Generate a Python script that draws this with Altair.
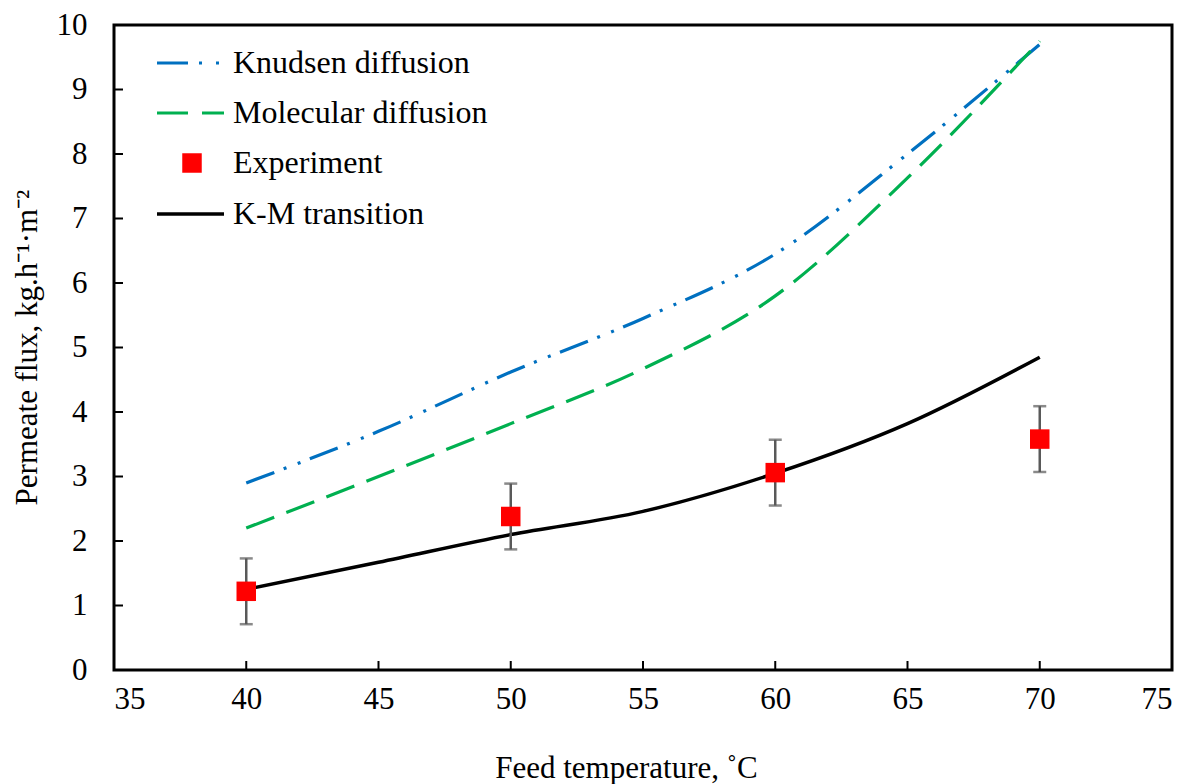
import altair as alt
import pandas as pd

# ---- data ----
temps = [40, 45, 50, 55, 60, 65, 70]
knudsen = [2.9, 3.70, 4.62, 5.45, 6.45, 8.0, 9.7]
molecular = [2.2, 3.0, 3.82, 4.67, 5.8, 7.63, 9.75]
km_transition = [1.25, 1.67, 2.1, 2.46, 3.05, 3.82, 4.85]

exp_temps = [40, 50, 60, 70]
exp_flux = [1.22, 2.38, 3.06, 3.58]
exp_err = [0.51, 0.51, 0.51, 0.51]

x_ticks = [35, 40, 45, 50, 55, 60, 65, 70, 75]
y_ticks = [0, 1, 2, 3, 4, 5, 6, 7, 8, 9, 10]

legend_labels = ["Knudsen diffusion", "Molecular diffusion", "Experiment", "K-M transition"]

FONT = "Liberation Serif"
W, H = 1058, 645

lines_df = pd.DataFrame({"T": temps, "kn": knudsen, "mo": molecular, "km": km_transition})
exp_df = pd.DataFrame({"T": exp_temps, "flux": exp_flux,
                       "lo": [f - e for f, e in zip(exp_flux, exp_err)],
                       "hi": [f + e for f, e in zip(exp_flux, exp_err)]})
xt_df = pd.DataFrame({"t": x_ticks})
yt_df = pd.DataFrame({"t": y_ticks})

xscale = alt.Scale(domain=[35, 75], nice=False, zero=False)
yscale = alt.Scale(domain=[0, 10], nice=False)

xaxis = alt.Axis(values=x_ticks, format="d", ticks=False, grid=False, domain=False,
                 labelFont=FONT, labelFontSize=31, labelColor="black", labelPadding=14,
                 title="Feed temperature, ˚C", titleFont=FONT, titleFontSize=31,
                 titleFontWeight="normal", titleColor="black",
                 titleX=512, titleY=107, titleBaseline="alphabetic", titleAlign="center")
yaxis = alt.Axis(values=y_ticks, format="d", ticks=False, grid=False, domain=False,
                 labelFont=FONT, labelFontSize=31, labelColor="black", labelPadding=27,
                 title="Permeate flux, kg.h⁻¹·m⁻²", titleFont=FONT, titleFontSize=31,
                 titleFontWeight="normal", titleColor="black",
                 titleX=-87, titleY=322, titleBaseline="middle", titleAlign="center", titleAngle=-90)

base = alt.Chart(lines_df)

kn_line = base.mark_line(color="#0070C0", strokeWidth=3.2, strokeDash=[30, 10, 3, 12, 3, 10],
                         interpolate="monotone").encode(
    x=alt.X("T:Q", scale=xscale, axis=xaxis),
    y=alt.Y("kn:Q", scale=yscale, axis=yaxis))
mo_line = base.mark_line(color="#00B050", strokeWidth=3.2, strokeDash=[30, 13],
                         interpolate="monotone").encode(
    x=alt.X("T:Q", scale=xscale), y=alt.Y("mo:Q", scale=yscale))
km_line = base.mark_line(color="black", strokeWidth=3.5, interpolate="monotone").encode(
    x=alt.X("T:Q", scale=xscale), y=alt.Y("km:Q", scale=yscale))

ebase = alt.Chart(exp_df)
err_rule = ebase.mark_rule(color="#595959", strokeWidth=2.5).encode(
    x=alt.X("T:Q", scale=xscale), y=alt.Y("lo:Q", scale=yscale), y2="hi:Q")
cap_lo = ebase.mark_tick(color="#595959", orient="horizontal", size=13, thickness=2.5).encode(
    x=alt.X("T:Q", scale=xscale), y=alt.Y("lo:Q", scale=yscale))
cap_hi = ebase.mark_tick(color="#595959", orient="horizontal", size=13, thickness=2.5).encode(
    x=alt.X("T:Q", scale=xscale), y=alt.Y("hi:Q", scale=yscale))
squares = ebase.mark_square(color="red", size=380, opacity=1, cornerRadius=2).encode(
    x=alt.X("T:Q", scale=xscale), y=alt.Y("flux:Q", scale=yscale))

# inward ticks
xticks_m = alt.Chart(xt_df).mark_rule(color="black", strokeWidth=2).encode(
    x=alt.X("t:Q", scale=xscale), y=alt.value(H), y2=alt.value(H - 9))
yticks_m = alt.Chart(yt_df).mark_rule(color="black", strokeWidth=2).encode(
    y=alt.Y("t:Q", scale=yscale), x=alt.value(0), x2=alt.value(9))

# legend (manual)
one = alt.Chart(pd.DataFrame({"a": [0]}))
rows = [38, 88, 138, 189]
lg_kn = one.mark_rule(color="#0070C0", strokeWidth=3.2, strokeDash=[31, 11, 3, 14, 3, 10]).encode(
    x=alt.value(43), x2=alt.value(110), y=alt.value(rows[0]))
lg_mo = one.mark_rule(color="#00B050", strokeWidth=3.2, strokeDash=[31, 14]).encode(
    x=alt.value(43), x2=alt.value(110), y=alt.value(rows[1]))
lg_ex = one.mark_square(color="red", size=380, opacity=1, cornerRadius=2).encode(
    x=alt.value(78), y=alt.value(rows[2]))
lg_km = one.mark_rule(color="black", strokeWidth=3.5).encode(
    x=alt.value(43), x2=alt.value(110), y=alt.value(rows[3]))
lg_text = [one.mark_text(text=lab, font=FONT, fontSize=32, align="left", baseline="middle",
                         color="black").encode(x=alt.value(119), y=alt.value(r))
           for lab, r in zip(legend_labels, rows)]

chart = alt.layer(kn_line, mo_line, km_line, err_rule, cap_lo, cap_hi, squares,
                  xticks_m, yticks_m, lg_kn, lg_mo, lg_ex, lg_km, *lg_text).properties(
    width=W, height=H,
    background="white",
    autosize=alt.AutoSizeParams(type="none"),
    padding={"left": 106, "top": 17, "right": 10, "bottom": 114},
).configure_view(stroke="black", strokeWidth=3)

chart.save("out.html", embed_options={"renderer": "svg", "actions": False})
